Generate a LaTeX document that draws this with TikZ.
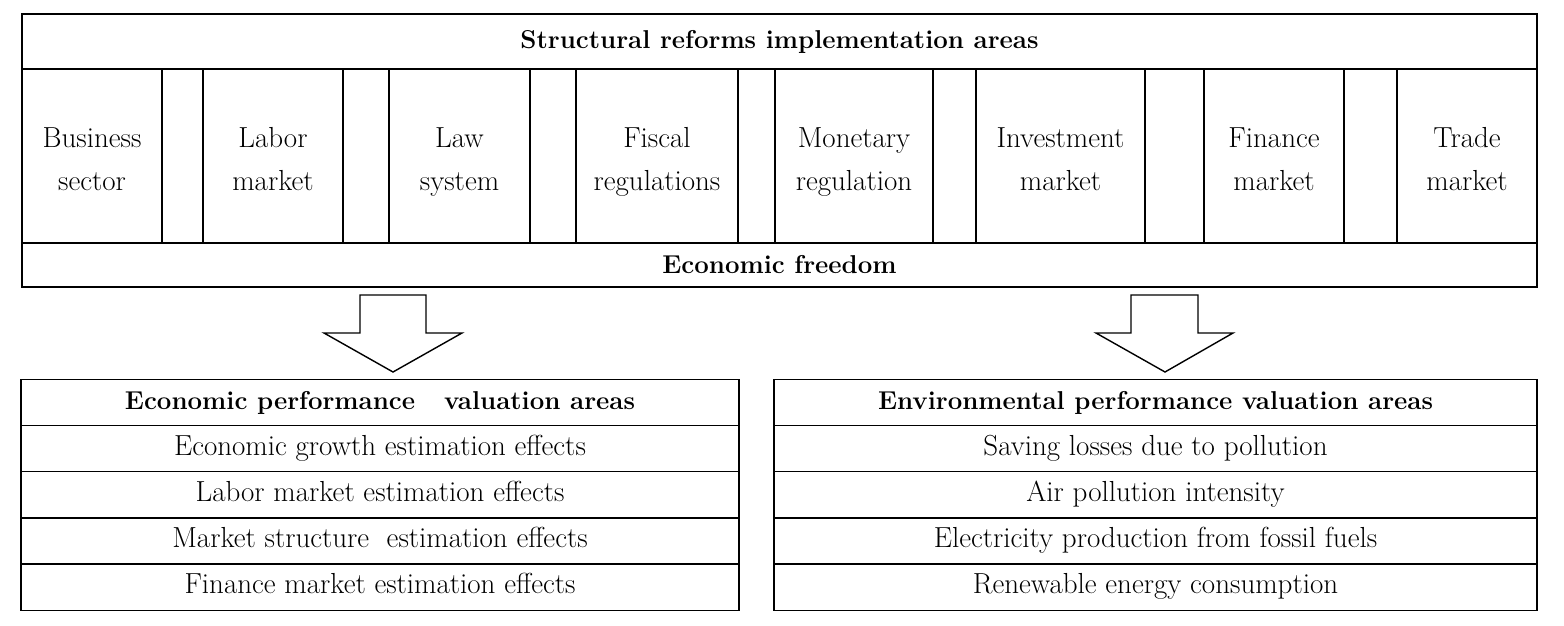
\documentclass[tikz,border=0pt]{standalone}
\usetikzlibrary{positioning}

\newcommand{\cellrows}[2]{\rule{0pt}{22.6pt}#1\\#2\strut}

\tikzset{
  box/.style={draw, line width=0.8pt, inner sep=0pt, outer sep=0pt, align=center,
    font=\fontsize{16.5}{24.4}\selectfont},
  cell/.style={box, minimum height=3.48cm},
  title/.style={box, font=\fontsize{14.7}{18}\selectfont\bfseries},
  row/.style={box, minimum height=0.924cm, text height=11.5pt, text depth=4pt},
  bigarrow/.style={draw, line width=0.8pt, fill=white, line join=miter},
}

\begin{document}
\begin{tikzpicture}[x=0.02cm, y=-0.02cm]
    \useasboundingbox (0,0) rectangle (1564,625);

    % Reform areas
    \node[title, minimum width=30.30cm, minimum height=1.10cm] (reforms) at (779.5,41.5) {Structural reforms implementation areas};
    \node[cell, minimum width=2.80cm] (business) at (92,156) {\cellrows{Business}{sector}};
    \node[cell, minimum width=2.80cm] (labor) at (273,156) {\cellrows{Labor}{market}};
    \node[cell, minimum width=2.82cm] (law) at (459.5,156) {\cellrows{Law}{system}};
    \node[cell, minimum width=3.24cm] (fiscal) at (657,156) {\cellrows{Fiscal}{regulations}};
    \node[cell, minimum width=3.16cm] (monetary) at (854,156) {\cellrows{Monetary}{regulation}};
    \node[cell, minimum width=3.38cm] (investment) at (1060.5,156) {\cellrows{Investment}{market}};
    \node[cell, minimum width=2.80cm] (finance) at (1274,156) {\cellrows{Finance}{market}};
    \node[cell, minimum width=2.80cm] (trade) at (1467,156) {\cellrows{Trade}{market}};
    \node[title, minimum width=30.30cm, minimum height=0.88cm] (freedom) at (779.5,265) {Economic freedom};

    % Arrows down
    \draw[bigarrow] (360,295) -- (426,295) -- (426,333) -- (462,333) -- (393,372) -- (324,333) -- (360,333) -- cycle;
    \draw[bigarrow] (1131,295) -- (1198,295) -- (1198,333) -- (1233,333) -- (1165,372) -- (1096,333) -- (1131,333) -- cycle;

    % Economic performance
    \node[row, title, minimum width=14.36cm] (econ) at (380,402.5) {Economic performance\ \ \ valuation areas};
    \node[row, minimum width=14.36cm, below=0pt of econ] (econ1) {Economic growth estimation effects};
    \node[row, minimum width=14.36cm, below=0pt of econ1] (econ2) {Labor market estimation effects};
    \node[row, minimum width=14.36cm, below=0pt of econ2] (econ3) {Market structure\ \ estimation effects};
    \node[row, minimum width=14.36cm, below=0pt of econ3] (econ4) {Finance market estimation effects};

    % Environmental performance
    \node[row, title, minimum width=15.26cm] (env) at (1155.5,402.5) {Environmental performance valuation areas};
    \node[row, minimum width=15.26cm, below=0pt of env] (env1) {Saving losses due to pollution};
    \node[row, minimum width=15.26cm, below=0pt of env1] (env2) {Air pollution intensity};
    \node[row, minimum width=15.26cm, below=0pt of env2] (env3) {Electricity production from fossil fuels};
    \node[row, minimum width=15.26cm, below=0pt of env3] (env4) {Renewable energy consumption};

\end{tikzpicture}
\end{document}
